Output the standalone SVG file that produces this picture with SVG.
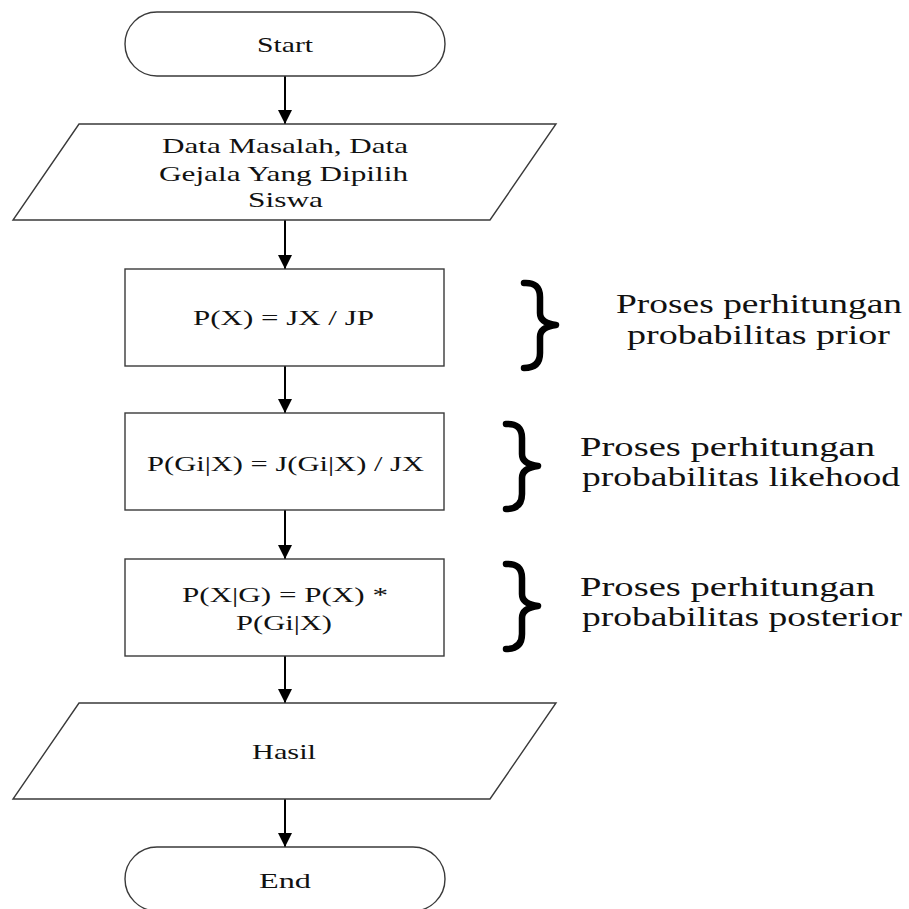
<svg xmlns="http://www.w3.org/2000/svg" width="909" height="909" viewBox="0 0 909 909">
  <defs>
    <marker id="arrow" markerUnits="userSpaceOnUse" markerWidth="14" markerHeight="14" refX="14" refY="7" orient="auto">
      <path d="M0,0 L14,7 L0,14 z" fill="#000"/>
    </marker>
    <style>
      .shape { fill: #fff; stroke: #3a3a3a; stroke-width: 1.4; }
      .lbl { font-size: 21px; fill: #111; }
      .note { font-size: 28px; fill: #111; }
      .conn { stroke: #000; stroke-width: 2; fill: none; marker-end: url(#arrow); }
      .brace { fill: none; stroke: #000; stroke-width: 6.5; stroke-linecap: round; stroke-linejoin: round; }
    </style>
  </defs>
  <rect width="909" height="909" fill="#fff"/>

  <!-- connectors -->
  <g id="connectors">
    <line class="conn" x1="285" y1="76" x2="285" y2="124"/>
    <line class="conn" x1="285" y1="220" x2="285" y2="269"/>
    <line class="conn" x1="285" y1="366" x2="285" y2="413"/>
    <line class="conn" x1="285" y1="510" x2="285" y2="559"/>
    <line class="conn" x1="285" y1="656" x2="285" y2="703"/>
    <line class="conn" x1="285" y1="799" x2="285" y2="847"/>
  </g>

  <g font-family="'Liberation Serif', 'Times New Roman', 'DejaVu Serif', serif">
    <!-- flowchart nodes -->
    <g id="start">
      <rect class="shape" x="125" y="12" width="320" height="64" rx="32" ry="32"/>
      <text class="lbl" x="257" y="52" textLength="56" lengthAdjust="spacingAndGlyphs">Start</text>
    </g>

    <g id="input-data">
      <polygon class="shape" points="79,124 556,124 490,220 13,220"/>
      <text class="lbl" x="162" y="153" textLength="246" lengthAdjust="spacingAndGlyphs">Data Masalah, Data</text>
      <text class="lbl" x="159" y="181" textLength="249" lengthAdjust="spacingAndGlyphs">Gejala Yang Dipilih</text>
      <text class="lbl" x="248" y="207" textLength="75" lengthAdjust="spacingAndGlyphs">Siswa</text>
    </g>

    <g id="prior">
      <rect class="shape" x="125" y="269" width="319" height="97"/>
      <text class="lbl" x="193" y="325" textLength="181" lengthAdjust="spacingAndGlyphs">P(X) = JX / JP</text>
    </g>

    <g id="likelihood">
      <rect class="shape" x="125" y="413" width="319" height="97"/>
      <text class="lbl" x="147" y="471" textLength="277" lengthAdjust="spacingAndGlyphs">P(Gi|X) = J(Gi|X) / JX</text>
    </g>

    <g id="posterior">
      <rect class="shape" x="125" y="559" width="319" height="97"/>
      <text class="lbl" x="182" y="602" textLength="206" lengthAdjust="spacingAndGlyphs">P(X|G) = P(X) *</text>
      <text class="lbl" x="236" y="630" textLength="96" lengthAdjust="spacingAndGlyphs">P(Gi|X)</text>
    </g>

    <g id="output-result">
      <polygon class="shape" points="79,703 556,703 490,799 13,799"/>
      <text class="lbl" x="252" y="759" textLength="64" lengthAdjust="spacingAndGlyphs">Hasil</text>
    </g>

    <g id="end">
      <rect class="shape" x="125" y="847" width="320" height="64" rx="32" ry="32"/>
      <text class="lbl" x="259" y="888" textLength="52" lengthAdjust="spacingAndGlyphs">End</text>
    </g>

    <!-- annotations: braces with step descriptions -->
    <g id="note-prior">
      <path class="brace" d="M524,283 Q540,282 540,297 L540,313 Q540,323 556,325 Q540,327 540,337 L540,353 Q540,368 524,368"/>
      <text class="note" x="616" y="313" textLength="286" lengthAdjust="spacingAndGlyphs">Proses perhitungan</text>
      <text class="note" x="627" y="344" textLength="263" lengthAdjust="spacingAndGlyphs">probabilitas prior</text>
    </g>

    <g id="note-likelihood">
      <path class="brace" d="M506,424 Q522,423 522,438 L522,454 Q522,464 538,466 Q522,468 522,478 L522,494 Q522,509 506,509"/>
      <text class="note" x="580" y="456" textLength="295" lengthAdjust="spacingAndGlyphs">Proses perhitungan</text>
      <text class="note" x="582" y="486" textLength="318" lengthAdjust="spacingAndGlyphs">probabilitas likehood</text>
    </g>

    <g id="note-posterior">
      <path class="brace" d="M506,564 Q522,563 522,578 L522,594 Q522,604 538,606 Q522,608 522,618 L522,634 Q522,649 506,649"/>
      <text class="note" x="580" y="596" textLength="295" lengthAdjust="spacingAndGlyphs">Proses perhitungan</text>
      <text class="note" x="582" y="626" textLength="320" lengthAdjust="spacingAndGlyphs">probabilitas posterior</text>
    </g>
  </g>
</svg>
